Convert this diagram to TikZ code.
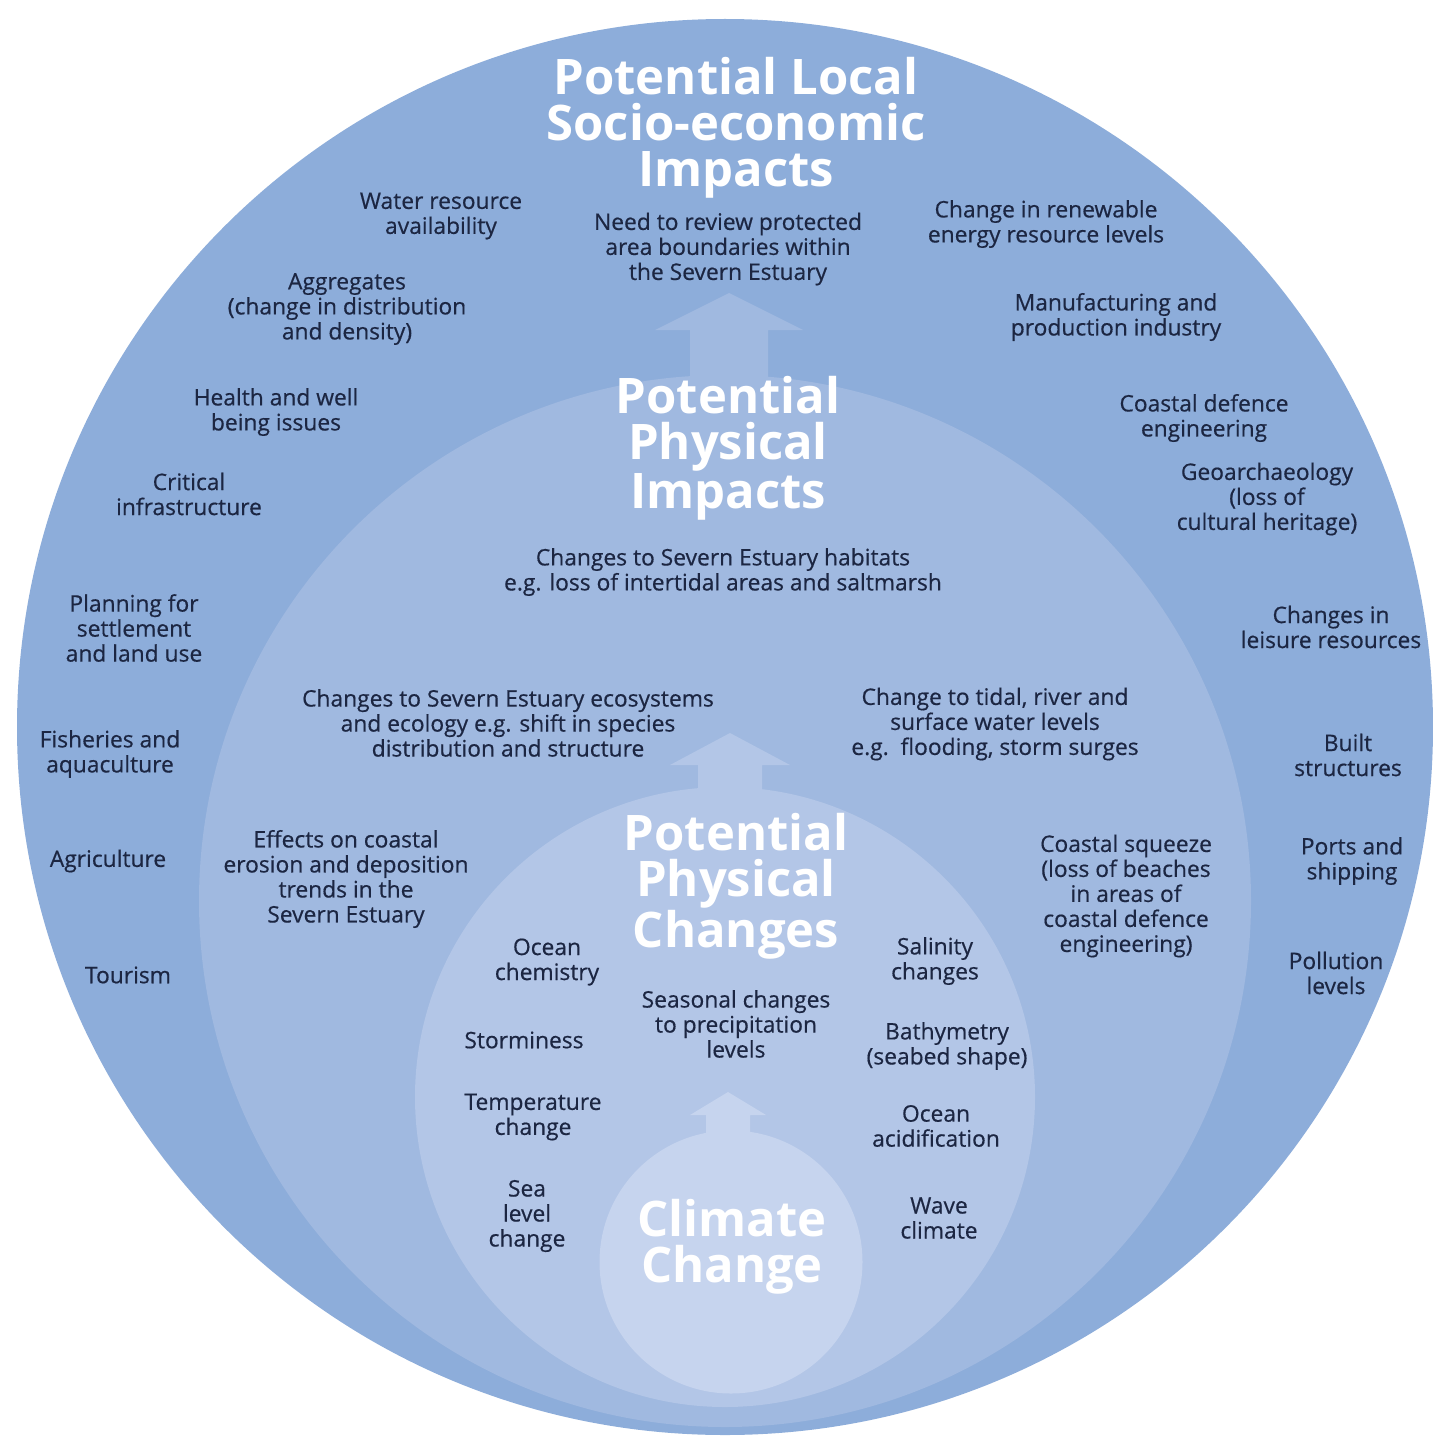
\documentclass[tikz,border=0pt]{standalone}
\usepackage{fontspec}
\setmainfont{Open Sans}
\newfontfamily\itemfont[FakeBold=0.5]{Open Sans}
\usepackage{xcolor}
\usepackage{tikz}

\definecolor{ringone}{RGB}{141,173,218}
\definecolor{ringtwo}{RGB}{160,185,224}
\definecolor{ringthree}{RGB}{179,198,231}
\definecolor{ringfour}{RGB}{198,212,238}
\definecolor{inktext}{RGB}{28,38,66}

\begin{document}
\begin{tikzpicture}[x=0.5pt, y=-0.5pt,
    item/.style={align=center, text=inktext, font=\itemfont\fontsize{11.4}{12.5}\selectfont, inner sep=0pt},
    heading/.style={align=center, text=white, font=\fontsize{24.5}{23}\selectfont\bfseries, inner sep=0pt}]
    \useasboundingbox (0,0) rectangle (1432,1439);

    % Socio-economic ring
    \fill[ringone] (725,727) circle (708);
    % arrow into the top ring
    \fill[ringtwo] (690,390) -- (690,330) -- (655,330) -- (729,293) -- (803,330) -- (768,330) -- (768,390) -- cycle;

    % Physical impacts disc
    \fill[ringtwo] (725,901) circle (526);
    \fill[ringthree] (698,800) -- (698,765) -- (670,765) -- (730,733) -- (790,765) -- (762,765) -- (762,800) -- cycle;

    % Physical changes disc
    \fill[ringthree] (725,1097) circle (310);
    \fill[ringfour] (706,1150) -- (706,1115) -- (690,1115) -- (728,1092) -- (766,1115) -- (750,1115) -- (750,1150) -- cycle;

    % Climate change core
    \fill[ringfour] (731,1262) circle (131.5);

    % headings
    \node[heading] (socio) at (736,128) {Potential Local\\Socio-economic\\Impacts};
    \node[heading] (impacts) at (728,448) {Potential\\Physical\\Impacts};
    \node[heading] (changes) at (736,886) {Potential\\Physical\\Changes};
    \node[heading] (climate) at (732,1247) {Climate\\Change};

    % outer ring items
    \node[item] (water) at (441,216) {Water resource\\availability};
    \node[item] (review) at (728,249) {Need to review protected\\area boundaries within\\the Severn Estuary};
    \node[item] (renew) at (1046,224) {Change in renewable\\energy resource levels};
    \node[item] (aggr) at (347,309) {Aggregates\\(change in distribution\\and density)};
    \node[item] (manuf) at (1116,317) {Manufacturing and\\production industry};
    \node[item] (health) at (276,412) {Health and well\\being issues};
    \node[item] (defence) at (1204,418) {Coastal defence\\engineering};
    \node[item] (infra) at (189,494) {Critical\\infrastructure};
    \node[item] (geo) at (1267,499) {Geoarchaeology\\(loss of\\cultural heritage)};
    \node[item] (plan) at (134,628) {Planning for\\settlement\\and land use};
    \node[item] (leisure) at (1331,627) {Changes in\\leisure resources};
    \node[item] (fish) at (110,754) {Fisheries and\\aquaculture};
    \node[item] (built) at (1348,755) {Built\\structures};
    \node[item] (agri) at (108,861) {Agriculture};
    \node[item] (ports) at (1352,861) {Ports and\\shipping};
    \node[item] (tour) at (128,975) {Tourism};
    \node[item] (pollu) at (1336,973) {Pollution\\levels};

    % physical impacts items
    \node[item] (habitat) at (723,572) {Changes to Severn Estuary habitats\\e.g. loss of intertidal areas and saltmarsh};
    \node[item] (ecosys) at (508,723) {Changes to Severn Estuary ecosystems\\and ecology e.g. shift in species\\distribution and structure};
    \node[item] (tidal) at (995,724) {Change to tidal, river and\\surface water levels\\e.g.\ \ flooding, storm surges};
    \node[item] (erosion) at (346,879) {Effects on coastal\\erosion and deposition\\trends in the\\Severn Estuary};
    \node[item] (squeeze) at (1126,896) {Coastal squeeze\\(loss of beaches\\in areas of\\coastal defence\\engineering)};

    % physical changes items
    \node[item] (chem) at (547,962) {Ocean\\chemistry};
    \node[item] (salin) at (935,961) {Salinity\\changes};
    \node[item] (precip) at (736,1024) {Seasonal changes\\to precipitation\\levels};
    \node[item] (storm) at (524,1040) {Storminess};
    \node[item] (bathy) at (947,1046) {Bathymetry\\(seabed shape)};
    \node[item] (temp) at (533,1117) {Temperature\\change};
    \node[item] (acid) at (936,1126) {Ocean\\acidification};
    \node[item] (sea) at (527,1216) {Sea\\level\\change};
    \node[item] (wave) at (939,1218) {Wave\\climate};
\end{tikzpicture}
\end{document}
